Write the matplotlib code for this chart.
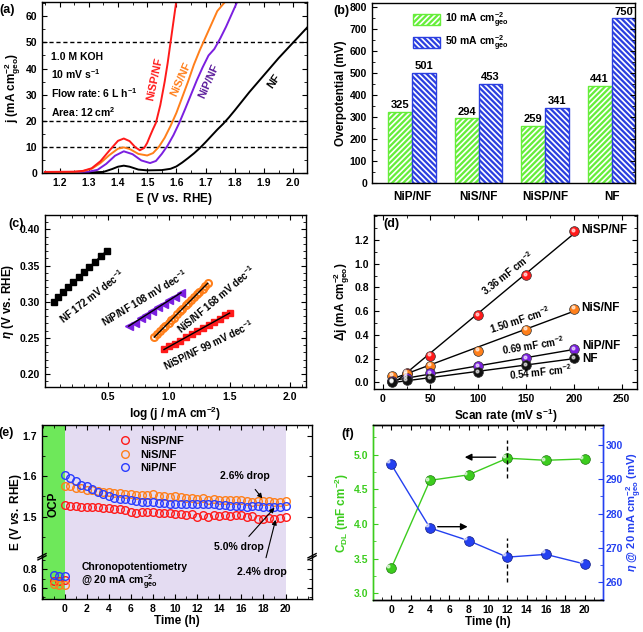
import numpy as np
import matplotlib
matplotlib.use("Agg")
import matplotlib.pyplot as plt
from matplotlib.patches import Patch

plt.rcParams['font.family'] = ['Liberation Sans', 'DejaVu Sans']
plt.rcParams['font.weight'] = 'bold'
plt.rcParams['axes.labelweight'] = 'bold'
plt.rcParams['font.size'] = 7.5
plt.rcParams['axes.labelsize'] = 8.5
plt.rcParams['mathtext.default'] = 'regular'
plt.rcParams['mathtext.fontset'] = 'custom'
plt.rcParams['mathtext.rm'] = 'Liberation Sans:bold'
plt.rcParams['mathtext.it'] = 'Liberation Sans:italic:bold'
plt.rcParams['mathtext.bf'] = 'Liberation Sans:bold'
plt.rcParams['xtick.direction'] = 'in'
plt.rcParams['ytick.direction'] = 'in'
plt.rcParams['xtick.top'] = True
plt.rcParams['ytick.right'] = True
plt.rcParams['xtick.minor.visible'] = True
plt.rcParams['ytick.minor.visible'] = True
plt.rcParams['xtick.major.size'] = 3.5
plt.rcParams['ytick.major.size'] = 3.5
plt.rcParams['xtick.minor.size'] = 2
plt.rcParams['ytick.minor.size'] = 2
plt.rcParams['axes.linewidth'] = 1.0
plt.rcParams['hatch.linewidth'] = 1.2

# =========================
# DADOS
# =========================

# (a) LSV
E_nisp = [1.15, 1.25, 1.28, 1.31, 1.34, 1.37, 1.40, 1.42, 1.44, 1.46, 1.475, 1.49, 1.50,
          1.51, 1.52, 1.53, 1.545, 1.56, 1.57, 1.58, 1.59, 1.60]
j_nisp = [0.4, 0.5, 0.8, 1.8, 4.5, 8.5, 12.3, 13.2, 12.2, 9.8, 8.7, 9.6, 11.5,
          14.2, 16.8, 19.2, 26, 35, 42, 50, 58, 66]
E_nis = [1.15, 1.25, 1.28, 1.31, 1.34, 1.37, 1.40, 1.42, 1.44, 1.47, 1.50, 1.52, 1.54,
         1.56, 1.58, 1.60, 1.62, 1.64, 1.66, 1.68, 1.70, 1.72, 1.74, 1.77]
j_nis = [0.3, 0.4, 0.7, 1.6, 3.8, 6.8, 9.3, 9.8, 9.2, 7.3, 6.7, 7.6, 10,
         13.5, 18, 23, 29, 35, 41.5, 47, 52, 57, 62, 66]
E_nip = [1.15, 1.25, 1.30, 1.33, 1.36, 1.39, 1.42, 1.45, 1.48, 1.51, 1.53, 1.55, 1.57,
         1.59, 1.61, 1.63, 1.65, 1.67, 1.69, 1.71, 1.73, 1.75, 1.77, 1.79, 1.81]
j_nip = [0.2, 0.3, 0.5, 1.2, 3.5, 6.6, 8.3, 7.2, 4.8, 3.8, 4.6, 7.3, 10.5,
         14.5, 19.2, 24.5, 30, 35.5, 40.5, 45, 47.5, 51.5, 56, 61, 66]
E_nf = [1.15, 1.30, 1.35, 1.38, 1.40, 1.42, 1.44, 1.47, 1.50, 1.55, 1.58, 1.60, 1.62,
        1.64, 1.66, 1.68, 1.70, 1.72, 1.74, 1.76, 1.78, 1.80, 1.85, 1.90, 1.95, 2.00, 2.05]
j_nf = [0.1, 0.2, 0.4, 1.5, 2.4, 2.8, 2.4, 1.3, 1.0, 1.1, 1.6, 2.5, 4.0,
        5.7, 7.5, 9.5, 11.8, 14.2, 16.6, 18.8, 21.3, 24.0, 31, 37.5, 44, 50, 56]

# (b) sobrepotencial
amostras = ["NiP/NF", "NiS/NF", "NiSP/NF", "NF"]
eta_10 = [325, 294, 259, 441]
eta_50 = [501, 453, 341, 750]

# (c) Tafel
logj_nf = [0.05, 0.09, 0.13, 0.17, 0.21, 0.26, 0.30, 0.34, 0.39, 0.44, 0.49]
eta_nf = [0.300, 0.307, 0.313, 0.320, 0.327, 0.334, 0.341, 0.348, 0.355, 0.363, 0.370]
logj_nip = [0.67, 0.72, 0.77, 0.81, 0.86, 0.91, 0.96, 1.00, 1.05, 1.10]
eta_nip = [0.266, 0.271, 0.277, 0.282, 0.287, 0.292, 0.297, 0.302, 0.307, 0.312]
logj_nis = [0.88, 0.90, 0.93, 0.95, 0.97, 1.00, 1.02, 1.04, 1.07, 1.09, 1.11, 1.14,
            1.16, 1.18, 1.21, 1.23, 1.25, 1.28, 1.30, 1.32]
eta_nis = [0.251, 0.255, 0.259, 0.263, 0.266, 0.271, 0.275, 0.278, 0.283, 0.287, 0.290, 0.295,
           0.298, 0.302, 0.307, 0.310, 0.314, 0.318, 0.322, 0.326]
logj_nisp = [0.96, 1.00, 1.05, 1.09, 1.14, 1.19, 1.23, 1.28, 1.33, 1.37, 1.42, 1.46, 1.50]
eta_nisp = [0.234, 0.238, 0.242, 0.246, 0.251, 0.255, 0.259, 0.263, 0.268, 0.272, 0.276, 0.281, 0.285]

# (d) Cdl
scan = [10, 25, 50, 100, 150, 200]
dj_nisp = [0.01, 0.08, 0.225, 0.565, 0.905, 1.275]
dj_nis = [0.055, 0.07, 0.14, 0.265, 0.445, 0.62]
dj_nip = [0.01, 0.04, 0.075, 0.135, 0.205, 0.28]
dj_nf = [0.0, 0.02, 0.035, 0.085, 0.145, 0.205]

# (e) cronopotenciometria
t_ocp = [-1.0, -0.5, 0.0]
ocp_nisp = [0.675, 0.68, 0.685]
ocp_nis = [0.645, 0.63, 0.63]
ocp_nip = [0.74, 0.725, 0.73]
t_cp = [0, 0.5, 1, 1.5, 2, 2.5, 3, 3.5, 4, 4.5, 5, 5.5, 6, 6.5, 7, 7.5, 8, 8.5, 9, 9.5, 10,
        10.5, 11, 11.5, 12, 12.5, 13, 13.5, 14, 14.5, 15, 15.5, 16, 16.5, 17, 17.5, 18,
        18.5, 19, 19.5, 20]
E_cp_nisp = [1.528, 1.527, 1.526, 1.523, 1.524, 1.525, 1.523, 1.522, 1.521, 1.519, 1.520,
             1.516, 1.512, 1.510, 1.511, 1.512, 1.511, 1.510, 1.508, 1.509, 1.507,
             1.506, 1.503, 1.506, 1.500, 1.504, 1.498, 1.505, 1.501, 1.503, 1.502,
             1.504, 1.503, 1.500, 1.501, 1.495, 1.494, 1.496, 1.493, 1.496, 1.500]
E_cp_nis = [1.577, 1.575, 1.572, 1.570, 1.567, 1.565, 1.563, 1.561, 1.560, 1.559, 1.558,
            1.557, 1.555, 1.553, 1.554, 1.553, 1.555, 1.552, 1.550, 1.549, 1.551,
            1.548, 1.547, 1.547, 1.544, 1.545, 1.542, 1.543, 1.542, 1.540, 1.541,
            1.540, 1.542, 1.538, 1.537, 1.539, 1.538, 1.538, 1.537, 1.537, 1.538]
E_cp_nip = [1.602, 1.596, 1.588, 1.578, 1.575, 1.568, 1.562, 1.556, 1.550, 1.546, 1.544,
            1.543, 1.541, 1.538, 1.537, 1.535, 1.535, 1.534, 1.533, 1.532, 1.531,
            1.530, 1.531, 1.530, 1.531, 1.530, 1.530, 1.530, 1.528, 1.528, 1.527,
            1.527, 1.526, 1.525, 1.526, 1.526, 1.525, 1.524, 1.523, 1.525, 1.526]

# (f) estabilidade
t_f = [0, 4, 8, 12, 16, 20]
cdl_f = [3.36, 4.63, 4.71, 4.95, 4.92, 4.94]
eta20_f = [294.3, 275.8, 272.1, 267.3, 268.1, 265.3]

# cores
VERM = '#ff1a1a'
LARA = '#ff7f1a'
ROXO = '#7b1fe0'
VERDE = '#66ee3a'
AZUL = '#2b3fe0'

fig = plt.figure(figsize=(6.43, 6.32), dpi=100)

# =========================
# (a)
# =========================
ax = fig.add_axes([0.0653, 0.7263, 0.4121, 0.2706])
for y in [10, 20, 50]:
    ax.axhline(y, color='black', ls='--', lw=1.0, dashes=(3, 2))
ax.plot(E_nf, j_nf, color='black', lw=1.4)
ax.plot(E_nip, j_nip, color=ROXO, lw=1.4)
ax.plot(E_nis, j_nis, color=LARA, lw=1.4)
ax.plot(E_nisp, j_nisp, color=VERM, lw=1.4)
ax.set_xlim(1.14, 2.047)
ax.set_ylim(0, 65.5)
ax.set_xticks(np.arange(1.2, 2.01, 0.1))
ax.set_xticks(np.arange(1.15, 2.05, 0.05), minor=True)
ax.set_yticks(np.arange(0, 61, 10))
ax.set_yticks(np.arange(0, 66, 5), minor=True)
ax.set_xlabel(r"E (V $\mathit{vs.}$ RHE)", labelpad=2)
ax.set_ylabel(r"j (mA cm$^{-2}_{geo}$)", labelpad=2)
ax.text(1.172, 46.5, "1.0 M KOH\n10 mV s$^{-1}$\nFlow rate: 6 L h$^{-1}$\nArea: 12 cm$^{2}$",
        fontsize=7.5, va='top', ha='left', linespacing=1.45)
ax.text(1.525, 36, "NiSP/NF", color=VERM, rotation=78, fontsize=8, ha='center', va='center')
ax.text(1.614, 36, "NiS/NF", color=LARA, rotation=66, fontsize=8, ha='center', va='center')
ax.text(1.71, 35, "NiP/NF", color='#5a1a9a', rotation=66, fontsize=8, ha='center', va='center')
ax.text(1.933, 35, "NF", color='black', rotation=55, fontsize=8, ha='center', va='center')
ax.text(-0.16, 0.99, "(a)", transform=ax.transAxes, fontsize=9, ha='left', va='top')

# =========================
# (b)
# =========================
ax = fig.add_axes([0.5785, 0.7104, 0.409, 0.2848])
x = np.arange(len(amostras))
w = 0.36
ax.bar(x - w / 2, eta_10, w, color=VERDE, edgecolor='white', hatch='//////', lw=0)
ax.bar(x - w / 2, eta_10, w, fill=False, edgecolor=VERDE, lw=1.0)
ax.bar(x + w / 2, eta_50, w, color=AZUL, edgecolor='white', hatch='\\\\\\\\\\\\', lw=0)
ax.bar(x + w / 2, eta_50, w, fill=False, edgecolor=AZUL, lw=1.0)
for xi, v in zip(x, eta_10):
    ax.text(xi - w / 2, v + 8, str(v), ha='center', va='bottom', fontsize=8)
for xi, v in zip(x, eta_50):
    ax.text(xi + w / 2, v + 8, str(v), ha='center', va='bottom', fontsize=8)
ax.set_xlim(-0.6, 3.35)
ax.set_ylim(0, 820)
ax.set_xticks(x)
ax.set_xticklabels(amostras, fontsize=8.5)
ax.tick_params(axis='x', which='both', top=False, bottom=False, pad=6)
ax.set_yticks(np.arange(0, 801, 100))
ax.set_yticks(np.arange(0, 820, 50), minor=True)
ax.set_ylabel("Overpotential (mV)", labelpad=2)
h10 = (Patch(facecolor=VERDE, edgecolor='white', hatch='//////', lw=0),
       Patch(fill=False, edgecolor=VERDE, lw=1.0))
h50 = (Patch(facecolor=AZUL, edgecolor='white', hatch='\\\\\\\\\\\\', lw=0),
       Patch(fill=False, edgecolor=AZUL, lw=1.0))
ax.legend([h10, h50], [r"10 mA cm$^{-2}_{geo}$", r"50 mA cm$^{-2}_{geo}$"],
          loc='upper left', bbox_to_anchor=(0.12, 1.01), frameon=False,
          handlelength=2.6, handleheight=1.3, labelspacing=0.35, handletextpad=0.5,
          fontsize=7.5)
ax.text(-0.085, 0.99, "(b)", transform=ax.transAxes, fontsize=9, ha='right', va='top')

# =========================
# (c)
# =========================
ax = fig.add_axes([0.070, 0.3877, 0.406, 0.2722])
ax.plot(logj_nf, eta_nf, 's', color='black', ms=4.5)
ax.plot(logj_nip, eta_nip, '<', color=ROXO, ms=5.5)
ax.plot(logj_nis, eta_nis, 'o', mfc='none', mec=LARA, mew=1.5, ms=5)
ax.plot(logj_nisp, eta_nisp, 's', color=VERM, ms=4.5)
for xs, ys in [(logj_nf, eta_nf), (logj_nip, eta_nip), (logj_nis, eta_nis), (logj_nisp, eta_nisp)]:
    p = np.polyfit(xs, ys, 1)
    xx = np.array([xs[0], xs[-1]])
    ax.plot(xx, np.polyval(p, xx), color='black', lw=1.0)
ax.set_xlim(-0.02, 2.13)
ax.set_ylim(0.182, 0.42)
ax.set_xticks([0.5, 1.0, 1.5, 2.0])
ax.set_xticks(np.arange(0.1, 2.11, 0.1), minor=True)
ax.set_yticks([0.20, 0.25, 0.30, 0.35, 0.40])
ax.set_yticks(np.arange(0.19, 0.42, 0.01), minor=True)
ax.set_yticklabels(["0.20", "0.25", "0.30", "0.35", "0.40"])
ax.set_xlabel(r"log (j / mA cm$^{-2}$)", labelpad=2)
ax.set_ylabel(r"$\mathit{\eta}$ (V vs. RHE)", labelpad=3)
ax.text(0.37, 0.308, "NF 172 mV dec$^{-1}$", rotation=38, fontsize=7, ha='center', va='center')
ax.text(0.80, 0.306, "NiP/NF 108 mV dec$^{-1}$", rotation=31, fontsize=7, ha='center', va='center')
ax.text(1.39, 0.303, "NiS/NF 168 mV dec$^{-1}$", rotation=40, fontsize=7, ha='center', va='center')
ax.text(1.33, 0.240, "NiSP/NF 99 mV dec$^{-1}$", rotation=26, fontsize=7, ha='center', va='center')
ax.text(-0.14, 0.985, "(c)", transform=ax.transAxes, fontsize=9, ha='left', va='top')

# =========================
# (d)
# =========================
ax = fig.add_axes([0.5817, 0.3845, 0.409, 0.2753])
series_d = [(dj_nisp, VERM), (dj_nis, LARA), (dj_nip, ROXO), (dj_nf, '#111111')]
for dj, c in series_d:
    p = np.polyfit(scan, dj, 1)
    xx = np.array([scan[0], scan[-1]])
    ax.plot(xx, np.polyval(p, xx), color='black', lw=1.0, zorder=2)
for dj, c in series_d:
    ax.plot(scan, dj, 'o', color=c, mec='#333333', mew=0.5, ms=7, zorder=3)
    ax.plot(np.array(scan) - 1.2, np.array(dj) + 0.012, 'o', color='white', alpha=0.6, ms=2, zorder=4)
ax.set_xlim(-9, 266)
ax.set_ylim(-0.056, 1.41)
ax.set_xticks(np.arange(0, 251, 50))
ax.set_xticks(np.arange(0, 266, 25), minor=True)
ax.set_yticks(np.arange(0, 1.21, 0.2))
ax.set_yticks(np.arange(0, 1.41, 0.1), minor=True)
ax.set_xlabel(r"Scan rate (mV s$^{-1}$)", labelpad=2)
ax.set_ylabel(r"$\Delta$j (mA cm$^{-2}_{geo}$)", labelpad=2)
ax.text(131, 0.92, "3.36 mF cm$^{-2}$", rotation=38, fontsize=7, ha='center', va='center')
ax.text(143, 0.525, "1.50 mF cm$^{-2}$", rotation=18, fontsize=7, ha='center', va='center')
ax.text(157, 0.315, "0.69 mF cm$^{-2}$", rotation=9, fontsize=7, ha='center', va='center')
ax.text(165, 0.085, "0.54 mF cm$^{-2}$", rotation=6, fontsize=7, ha='center', va='center')
ax.text(208, 1.285, "NiSP/NF", fontsize=8.5, va='center')
ax.text(208, 0.625, "NiS/NF", fontsize=8.5, va='center')
ax.text(209, 0.31, "NiP/NF", fontsize=8.5, va='center')
ax.text(209, 0.195, "NF", fontsize=8.5, va='center')
ax.text(0.035, 0.985, "(d)", transform=ax.transAxes, fontsize=9, ha='left', va='top')

# =========================
# (e)
# =========================
ax_t = fig.add_axes([0.0653, 0.1187, 0.42, 0.2089])
ax_b = fig.add_axes([0.0653, 0.0522, 0.42, 0.0665])
for a in (ax_t, ax_b):
    a.axvspan(-2.1, 0, color='#6ee85a', lw=0, zorder=0)
    a.axvspan(0, 20, color='#e4dcf2', lw=0, zorder=0)
    a.set_xlim(-2.05, 22.4)
    a.set_xticks(np.arange(0, 21, 2))
    a.set_xticks(np.arange(-2, 22.1, 1), minor=True)
for a, yo in [(ax_t, (E_cp_nisp, E_cp_nis, E_cp_nip)), (ax_b, (ocp_nisp, ocp_nis, ocp_nip))]:
    tt = t_cp if a is ax_t else t_ocp
    a.plot(tt, yo[0], 'o', mfc='none', mec=VERM, mew=1.0, ms=5.5, label="NiSP/NF")
    a.plot(tt, yo[1], 'o', mfc='none', mec=LARA, mew=1.0, ms=5.5, label="NiS/NF")
    a.plot(tt, yo[2], 'o', mfc='none', mec='#2a3cff', mew=1.0, ms=5.5, label="NiP/NF")
ax_t.set_ylim(1.40, 1.727)
ax_t.set_yticks([1.5, 1.6, 1.7])
ax_t.set_yticks(np.arange(1.45, 1.72, 0.05), minor=True)
ax_t.spines['bottom'].set_visible(False)
ax_t.tick_params(axis='x', which='both', bottom=False, labelbottom=False)
ax_b.set_ylim(0.48, 0.935)
ax_b.set_yticks([0.6, 0.8])
ax_b.set_yticks([0.5, 0.7, 0.9], minor=True)
ax_b.spines['top'].set_visible(False)
ax_b.tick_params(axis='x', which='both', top=False)
ax_b.set_xlabel("Time (h)", labelpad=1)
fig.text(0.012, 0.19, r"E (V $\mathit{vs.}$ RHE)", rotation=90, fontsize=8.5, va='center', ha='left')
for xb in (0.0, 1.0):
    for dy in (-0.02, 0.03):
        ax_b.plot([xb - 0.015, xb + 0.015], [1.0 + dy - 0.05, 1.0 + dy + 0.05],
                  transform=ax_b.transAxes, color='black', lw=1.0, clip_on=False)
ax_t.legend(loc='upper left', bbox_to_anchor=(0.25, 0.99), frameon=False, fontsize=8,
            handlelength=1.0, handletextpad=0.9, labelspacing=0.3)
ax_t.text(-1.0, 1.53, "OCP", rotation=90, fontsize=8.5, ha='center', va='center')
ax_b.text(1.5, 0.83, "Chronopotentiometry", fontsize=7.5, ha='left', va='center')
ax_b.text(1.5, 0.66, r"@ 20 mA cm$^{-2}_{geo}$", fontsize=7.5, ha='left', va='center')
ax_t.annotate("2.6% drop", xy=(17.9, 1.545), xytext=(16.3, 1.6),
              fontsize=7.5, ha='center', va='center',
              arrowprops=dict(arrowstyle='-|>', color='black', lw=0.8, mutation_scale=7,
                              shrinkA=5, shrinkB=0))
ax_t.annotate("5.0% drop", xy=(19.0, 1.522), xytext=(15.8, 1.424),
              fontsize=7.5, ha='center', va='center',
              arrowprops=dict(arrowstyle='-|>', color='black', lw=0.8, mutation_scale=7,
                              shrinkA=3, shrinkB=0))
ax_b.annotate("2.4% drop", xy=(19.1, 1.492), xycoords=ax_t.transData, xytext=(17.9, 0.77),
              textcoords=ax_b.transData, fontsize=7.5, ha='center', va='center',
              arrowprops=dict(arrowstyle='-|>', color='black', lw=0.8, mutation_scale=7,
                              shrinkA=5, shrinkB=0))
ax_t.text(-0.16, 0.985, "(e)", transform=ax_t.transAxes, fontsize=9, ha='left', va='top')

# =========================
# (f)
# =========================
VERDE_F = '#3ccc1e'
AZUL_F = '#2440f0'
ax = fig.add_axes([0.580, 0.0506, 0.3577, 0.2769])
ax2 = ax.twinx()
ax.plot(t_f, cdl_f, '-', color=VERDE_F, lw=1.0)
ax.plot(t_f, cdl_f, 'o', color=VERDE_F, mec='#1f7a10', mew=0.5, ms=7)
ax.plot(np.array(t_f) - 0.35, np.array(cdl_f) + 0.025, 'o', color='white', alpha=0.6, ms=2)
ax2.plot(t_f, eta20_f, '-', color=AZUL_F, lw=1.0)
ax2.plot(t_f, eta20_f, 'o', color=AZUL_F, mec='#101a80', mew=0.5, ms=7)
ax2.plot(np.array(t_f) - 0.35, np.array(eta20_f) + 0.9, 'o', color='white', alpha=0.6, ms=2)
ax.set_xlim(-1.9, 21.9)
ax.set_ylim(2.9, 5.43)
ax2.set_ylim(254.8, 305.8)
ax.set_xticks(np.arange(0, 21, 2))
ax.set_xticks(np.arange(-1, 21.5, 1), minor=True)
ax.set_yticks(np.arange(3.0, 5.01, 0.5))
ax.set_yticks(np.arange(3.0, 5.41, 0.25), minor=True)
ax2.set_yticks([260, 270, 280, 290, 300])
ax2.set_yticks(np.arange(255, 306, 5), minor=True)
ax.tick_params(axis='y', which='both', right=False, colors=VERDE_F)
ax2.tick_params(axis='y', which='both', colors=AZUL_F, pad=2)
ax.spines['left'].set_color(VERDE_F)
ax2.spines['left'].set_color(VERDE_F)
ax2.spines['right'].set_color(AZUL_F)
ax.spines['right'].set_color(AZUL_F)
ax.set_xlabel("Time (h)", labelpad=1)
ax.set_ylabel(r"C$_{DL}$ (mF cm$^{-2}$)", color=VERDE_F, labelpad=2)
ax2.set_ylabel(r"$\mathit{\eta}$ @ 20 mA cm$^{-2}_{geo}$ (mV)", color=AZUL_F, labelpad=1,
               fontsize=8)
ax.plot([12, 12], [4.66, 5.22], color='black', ls='--', lw=1.0, dashes=(3, 2))
ax.plot([12, 12], [3.16, 3.80], color='black', ls='--', lw=1.0, dashes=(3, 2))
ax.annotate("", xy=(7.6, 4.965), xytext=(10.8, 4.965),
            arrowprops=dict(arrowstyle='-|>', color='black', lw=1.0, mutation_scale=10,
                            shrinkA=0, shrinkB=0))
ax.annotate("", xy=(7.9, 3.96), xytext=(4.8, 3.96),
            arrowprops=dict(arrowstyle='-|>', color='black', lw=1.0, mutation_scale=10,
                            shrinkA=0, shrinkB=0))
ax.text(-0.08, 0.985, "(f)", transform=ax.transAxes, fontsize=9, ha='right', va='top')

plt.savefig("out.png", dpi=100)
